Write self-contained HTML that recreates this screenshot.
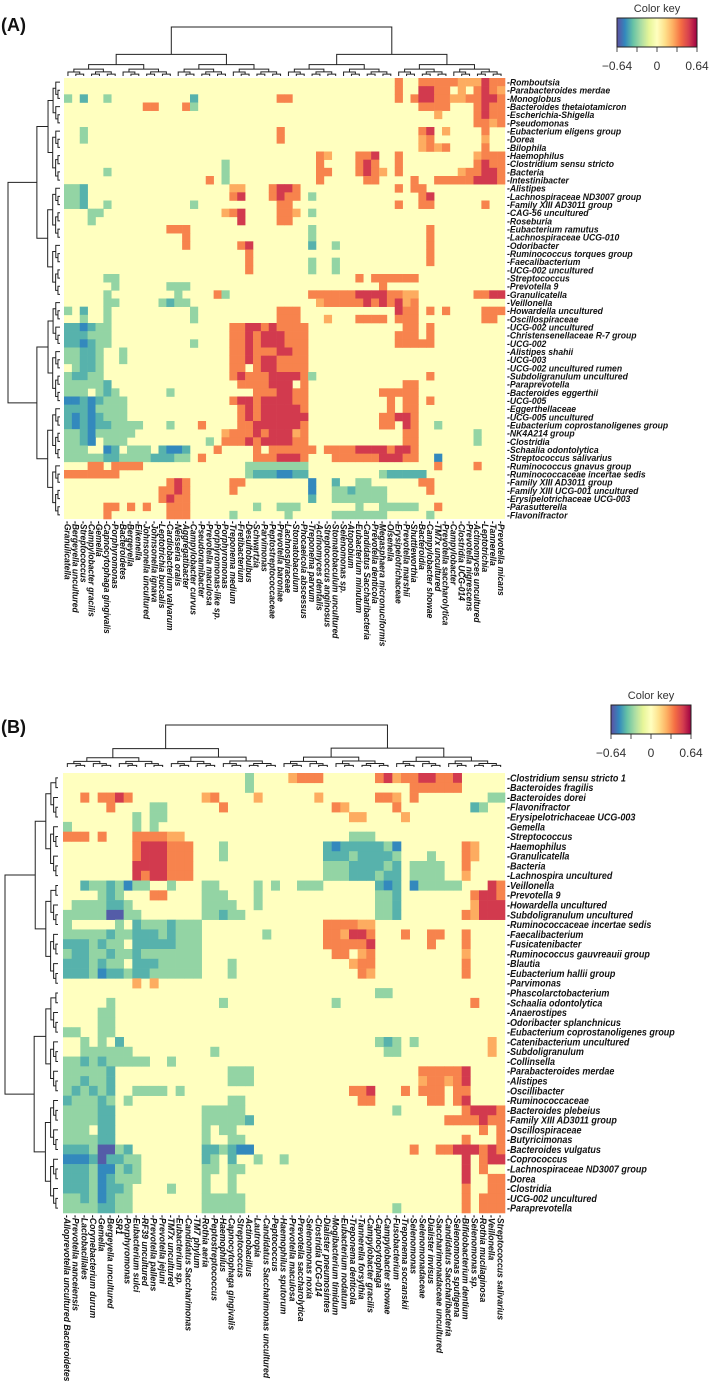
<!DOCTYPE html>
<html><head><meta charset="utf-8">
<style>
html,body{margin:0;padding:0;background:#fff;}
svg{display:block;}
text{font-family:"Liberation Sans",sans-serif;}
.lab{font-style:italic;fill:#111;font-weight:bold;}
</style></head>
<body>
<svg id="fig" width="709" height="1398" viewBox="0 0 709 1398" xmlns="http://www.w3.org/2000/svg"></svg>
<script>
// ---------- Panel A data ----------
const rowsA = ["Romboutsia","Parabacteroides merdae","Monoglobus","Bacteroides thetaiotamicron","Escherichia-Shigella","Pseudomonas","Eubacterium eligens group","Dorea","Bilophila","Haemophilus","Clostridium sensu stricto","Bacteria","Intestinibacter","Alistipes","Lachnospiraceae ND3007 group","Family XIII AD3011 group","CAG-56 uncultured","Roseburia","Eubacterium ramutus","Lachnospiraceae UCG-010","Odoribacter","Ruminococcus torques group","Faecalibacterium","UCG-002 uncultured","Streptococcus","Prevotella 9","Granulicatella","Veillonella","Howardella uncultured","Oscillospiraceae","UCG-002 uncultured","Christensenellaceae R-7 group","UCG-002","Alistipes shahii","UCG-003","UCG-002 uncultured rumen","Subdoligranulum uncultured","Paraprevotella","Bacteroides eggerthii","UCG-005","Eggerthellaceae","UCG-005 uncultured","Eubacterium coprostanoligenes group","NK4A214 group","Clostridia","Schaalia odontolytica","Streptococcus salivarius","Ruminococcus gnavus group","Ruminococcaceae incertae sedis","Family XIII AD3011 group","Family XIII UCG-001 uncultured","Erysipelotrichaceae UCG-003","Parasutterella","Flavonifractor"];
const colsA = ["Granulicatella","Bergeyella uncultured","Streptococcus","Campylobacter gracilis","Gemella","Capnocytophaga gingivalis","Porphyromonas","Bacteroidetes","Bergeyella","Eikenella","Johnsonella uncultured","Johnsonella ignava","Leptotrichia buccalis","Cardiobacterium valvarum","Neisseria oralis","Aggregatibacter","Campylobacter curvus","Pseudoramibacter","Prevotella maculosa","Porphyromonas-like sp.","Porphyromonas","Treponema medium","Fretibacterium","Desulfobulbus","Schwartzia","Parvimonas","Peptostreptococcaceae","Prevotella baroniae","Lachnospiraceae","Stomatobaculum","Phocaeicola abscessus","Treponema parvum","Actinomyces dentalis","Streptococcus anginosus","Stomatobaculum uncultured","Selenomonas sp.","Atopobium","Eubacterium minutum","Candidatus Saccharibacteria","Prevotella denticola","Megasphaera micronuciformis","Olsenella","Erysipelotrichaceae","Prevotella marshii","Shuttleworthia","Bacteroidia","Campylobacter showae","TM7x uncultured","Prevotella saccharolytica","Campylobacter","Clostridia UCG-014","Prevotella nigrescens","Actinomyces uncultured","Leptotrichia","Tannerella","Prevotella micans"];
const cellsA = [
"42:2 45:22222111322","42:2 45:3322.1.2321","0:a 2:b 5:a 16:b 27:22 42:2 44:233221122332","10:22 15:2a 45:2222 52:2322","47:1 52:2322","52:2212",
"2:a 27:2 45:23.1 53:2","2:a 27:2 45:12 53:1","45:1212 53:2","32:21 37:223 42:2 52:1222","20:a 32:2 37:232 42:2 52:2322","5:a 20:a 32:22 37:2321 42:2 50:122332",
"18:2 20:a 32:2 38:22 44:2 47:222223332","0:aab 21:11 26:2332 42:2 44:22","0:aab 21:23 26:2322 31:a 45:23","0:aab 5:a 16:a 27:22 42:2 45:22 53:2","3:aa 20:123 27:221 31:a","3:a 22:3 27:22",
"13:222 31:a 46:2","15:2 31:a 46:2","15:2 22:23 31:b 34:a 46:2","23:2 46:2","23:2 31:a 34:a 46:2","23:2 31:a 34:a",
"5:aa 37:2 39:222222","6:a 13:aaa 40:2","5:a 14:a 19:2a 31:22222233332211 52:2233","5:aa 12:abaa 32:1222223232312","0:a 2:b 5:a 16:a 27:222 42:322 46:2 48:2 53:222","2:a 5:a 16:a 27:222 33:1 37:2222 42:222 53:22",
"0:bbcbaa 21:2233232222 43:22 46:2","0:bbbaaa 21:2232333222 42:222 46:2","0:bbcbaa 16:a 21:2232333222 42:22222","0:aabba 7:a 21:2232223322","0:aabba 7:a 21:2232332222","1:abba 21:22.2332222",
"0:abbaa 21:2322233332a 46:2","0:aaaaab 22:2222333.2 43:22","0:aaa.aba 13:a 24:2223322 40:22222","0:ccbcbaaa 21:2332333322 41:2.22 46:2","0:bbbcaaaa 22:232333332 41:2.22","0:bcbcbaaa 22:232333333 40:22332",
"0:bcbcbbaaaa 13:a 17:2 22:223333332 40:22.32 47:a","0:aabcaaaaa 20:12223233312 43:22 52:a","0:aabc.aaa 18:a 20:22232333322 43:22 52:a","0:aaa 5:cb.aaa.bccb 19:2 24:2.222222 33:222233332332","0:aaaaabbaaaabbbaa 17:2 24:2223332 34:22222233322 47:c","3:22 6:2222 23:aaaaaaaa 47:2 52:2",
"0:2222222 23:abbbccbb 40:abbbbb","13:232 21:22 31:c 34:b 37:aa 45:22","12:2232 21:2 31:c 34:aabaaaa 46:2","12:2322 31:b 34:aaaaaaa","5:22 8:2 10:2 13:222 24:a 27:aaa 37:a 40:aaaaa 47:2","5:2 13:222 21:a 28:a 34:aaaaaaa 46:a"
];
// ---------- Panel B data ----------
const rowsB = ["Clostridium sensu stricto 1","Bacteroides fragilis","Bacteroides dorei","Flavonifractor","Erysipelotrichaceae UCG-003","Gemella","Streptococcus","Haemophilus","Granulicatella","Bacteria","Lachnospira uncultured","Veillonella","Prevotella 9","Howardella uncultured","Subdoligranulum uncultured","Ruminococcaceae incertae sedis","Faecalibacterium","Fusicatenibacter","Ruminococcus gauvreauii group","Blautia","Eubacterium hallii group","Parvimonas","Phascolarctobacterium","Schaalia odontolytica","Anaerostipes","Odoribacter splanchnicus","Eubacterium coprostanoligenes group","Catenibacterium uncultured","Subdoligranulum","Collinsella","Parabacteroides merdae","Alistipes","Oscillibacter","Ruminococcaceae","Bacteroides plebeius","Family XIII AD3011 group","Oscillospiraceae","Butyricimonas","Bacteroides vulgatus","Coprococcus","Lachnospiraceae ND3007 group","Dorea","Clostridia","UCG-002 uncultured","Paraprevotella"];
const colsB = ["Alloprevotella uncultured Bacteroidetes","Prevotella nanceiensis","Lactobacillales","Corynebacterium durum","Gemella","Bergeyella uncultured","SR1","Porphyromonas","Eubacterium sulci","RF39 uncultured","Prevotella pallens","Prevotella jejuni","TM7x uncultured","Eubacterium sp.","Candidatus Saccharimonas","TM7 phylum","Rothia aeria","Peptostreptococcus","Haemophilus","Capnocytophaga gingivalis","Streptococcus","Actinobacillus","Lautropia","Candidatus Saccharimonas uncultured","Peptococcus","Haemophilus sputorum","Prevotella maculosa","Prevotella saccharolytica","Selenomonas noxia","Clostridia UCG-014","Dialister pneumosintes","Mogibacterium timidum","Eubacterium nodatum","Treponema denticola","Tannerella forsythia","Campylobacter gracilis","Capnocytophaga","Campylobacter showae","Fusobacterium","Treponema socranskii","Selenomonas","Selenomonadaceae","Dialister invisus","Saccharimonadaceae uncultured","Candidatus Saccharibacteria","Selenomonas sputigena","Bifidobacterium dentium","Selenomonas sp.","Rothia mucilaginosa","Veillonella","Streptococcus salivarius"];
const cellsB = [
"21:a 26:1222 36:2312233223","21:a 40:222222","2:2 4:2232 16:12 22:1 29:1 36:221.2 49:aa","5:2 10:aa 18:2 31:21 38:2 47:ba","8:a 10:aa 33:11 39:1","0:a 8:a 10:a",
"0:222.2 8:222211 33:aaa","8:2333222 18:a 30:bcbbbbbac 46:21","8:2333222 18:a 30:bbbabbbba 42:a 46:21","8:3333222 30:aaabbbbab 40:aaaa 46:2","8:3233222 30:aaabbbabb 40:aaaa 46:1","2:baabacaa 12:a 16:aa 22:a 24:a 27:aaa 36:bcb.caaaaa 49:32",
"4:aba 10:22 16:aaa 22:a 36:aab 47:2332","1:aaaabba 16:aaaa 22:a 36:aab 47:1333","0:aaaaaddaa 16:aabaa 36:aab 46:21333","0:a 6:a 8:baaabaaa 30:222211","0:aaaaabaabbbabaaa 23:a 30:221332 39:2 42:22 46:2","0:bbbabaa.bbbbbaaa 30:222223 42:2 46:2",
"0:abbaabaabaaaaaaa 31:22.12 46:1","0:bbbabaa.bbbaaaaa 19:a 33:122 46:2","0:bbbacbbabbaaaaaa 19:a 34:21 46:2","8:1.1","36:aa","5:a 18:a 31:a 47:2",
"4:aa","4:aa","0:aa 4:aa","2:a.a.b 36:aba.a 49:1","2:aaaaaa 17:a 37:aa 49:1","0:aababaaaaa 12:a",
"0:aaaaab 19:aaa 41:222223","0:aabaab 19:aaa 41:122123","0:ababab 8:aaaa 13:a 33:223 39:2 41:222.22","0:baaaba.a 19:aa 34:22 42:22 45:23","0:aaaabb 16:aaaaa 38:a 46:23332","0:aaaabb 16:aaaaab 44:2222322",
"0:aaa.bb 16:a.aa 48:2.2","0:aaaabb 16:a..aa 46:2...2","0:bbbaddab 16:bbabcc 40:2 43:22333232","0:cccbdbbaa 16:ba.b 22:a 25:a 46:3.233","0:bbbaccaba 16:aa.aa 46:3.2","0:bbbacbaaa 16:a..a 46:3..22",
"0:bbbacbba 12:a 16:a..a 46:2..22","0:aabacbaa 16:aaaaa 46:2.222","0:aaaabbaa 16:aaaaa 38:a 46:2.222"
];
const codeVal = {'.':0,'1':0.26,'2':0.34,'3':0.52,'a':-0.3,'b':-0.42,'c':-0.51,'d':-0.61};

const NS = "http://www.w3.org/2000/svg";
const svg = document.getElementById('fig');
function mk(tag, attrs, parent){ const e=document.createElementNS(NS,tag); for(const k in attrs) e.setAttribute(k,attrs[k]); (parent||svg).appendChild(e); return e; }
const stops = [[-0.64,[94,79,162]],[-0.512,[50,136,189]],[-0.384,[102,194,165]],[-0.256,[171,221,164]],[-0.128,[230,245,152]],[0,[255,255,191]],[0.128,[254,224,139]],[0.256,[253,174,97]],[0.384,[244,109,67]],[0.512,[213,62,79]],[0.64,[158,1,66]]];
function color(v){
  v=Math.max(-0.64,Math.min(0.64,v));
  for(let i=0;i<stops.length-1;i++){ const [a,ca]=stops[i],[b,cb]=stops[i+1];
    if(v<=b){ const t=(v-a)/(b-a); return 'rgb('+ca.map((c,j)=>Math.round(c+(cb[j]-c)*t)).join(',')+')'; } }
  return 'rgb(158,1,66)';
}
function parseRow(spec, n){
  const out=new Array(n).fill(0);
  spec.split(' ').filter(s=>s).forEach(seg=>{ const [s,codes]=seg.split(':'); let c=+s;
    for(const ch of codes){ if(c<n) out[c]=codeVal[ch]; c++; } });
  return out;
}
function tree(lo,hi,n,maxH){
  if(lo===hi) return {pos:lo,h:0,kids:null};
  const mid=lo+Math.floor((hi-lo+1)/2)-1;
  const L=tree(lo,mid,n,maxH), R=tree(mid+1,hi,n,maxH);
  const size=hi-lo+1;
  const h=Math.max(L.h,R.h)+maxH*Math.pow(size/n,1.6)*0.85+maxH*0.06;
  return {pos:(L.pos+R.pos)/2,h:h,kids:[L,R]};
}
function drawDendro(n, vertical, leafPos, base, maxH, parent, name){
  const t=tree(0,n-1,n,maxH);
  const sc=maxH/t.h;
  let d='';
  function walk(node){
    if(!node.kids) return;
    const [L,R]=node.kids; walk(L); walk(R);
    const hp=base-node.h*sc, hl=base-L.h*sc, hr=base-R.h*sc, xl=leafPos(L.pos), xr=leafPos(R.pos);
    if(vertical) d+=`M${xl},${hl}V${hp}H${xr}V${hr}`;
    else d+=`M${hl},${xl}H${hp}V${xr}H${hr}`;
  }
  walk(t);
  const p=mk('path',{d:d,fill:'none',stroke:'#222','stroke-width':1},parent);
  
  
}
function colorKey(x,y,w,h,parent,name){
  const g=mk('g',{},parent);
  
  
  const id='grad'+name;
  const defs=mk('defs',{},g); const lg=mk('linearGradient',{id:id,x1:0,x2:1,y1:0,y2:0},defs);
  stops.forEach(s=>mk('stop',{offset:((s[0]+0.64)/1.28*100)+'%','stop-color':color(s[0])},lg));
  const ct=mk('text',{x:x+w/2,y:y-6,'text-anchor':'middle','font-size':11,fill:'#333'},g); ct.textContent='Color key';
   
  mk('rect',{x:x,y:y,width:w,height:h,fill:`url(#${id})`,stroke:'#222','stroke-width':1},g);
  [-0.64,-0.32,0,0.32,0.64].forEach(v=>{ const tx=x+(v+0.64)/1.28*w; mk('line',{x1:tx,x2:tx,y1:y+h,y2:y+h+5,stroke:'#222','stroke-width':0.8},g); });
  [['\u22120.64',-0.64],['0',0],['0.64',0.64]].forEach(([s,v])=>{ const t=mk('text',{x:x+(v+0.64)/1.28*w,y:y+h+23,'text-anchor':'middle','font-size':12,fill:'#333'},g); t.textContent=s;
      });
}
function panel(cfg){
  const g=mk('g',{});
  
  
  const nr=cfg.rows.length, nc=cfg.cols.length;
  const cw=(cfg.x1-cfg.x0)/nc, rh=(cfg.y1-cfg.y0)/nr;
  const xs=i=>cfg.x0+i*cw, ys=j=>cfg.y0+j*rh;
  const bg=mk('rect',{x:cfg.x0,y:cfg.y0,width:cfg.x1-cfg.x0,height:cfg.y1-cfg.y0,fill:color(0)},g);
   
  cfg.cells.forEach((spec,j)=>{ const vals=parseRow(spec,nc);
    vals.forEach((v,i)=>{ if(v===0) return;
      const r=mk('rect',{x:xs(i),y:ys(j),width:cw+0.3,height:rh+0.3,fill:color(v)},g);
        }); });
  cfg.rows.forEach((lbl,j)=>{ const t=mk('text',{transform:`translate(${cfg.x1+2},${ys(j)+rh/2}) scale(0.9,1)`,'dy':'0.35em','font-size':cfg.rfs,class:'lab'},g); t.textContent='-'+lbl;
      });
  cfg.cols.forEach((lbl,i)=>{ const cx=xs(i)+cw/2; const t=mk('text',{transform:`translate(${cx},${cfg.y1+2}) rotate(90) scale(0.9,1)`,'dy':'0.35em','font-size':cfg.cfs,class:'lab'},g); t.textContent='-'+lbl;
      });
  drawDendro(nc,true,p=>xs(p)+cw/2,cfg.dTopBase,cfg.dTopH,g,'column-dendrogram');
  drawDendro(nr,false,p=>ys(p)+rh/2,cfg.dLeftBase,cfg.dLeftH,g,'row-dendrogram');
  const pl=mk('text',{x:1,y:cfg.labelY,'font-size':18,'font-weight':'bold',fill:'#111'},g); pl.textContent=cfg.panelLabel;
   
  colorKey(cfg.kx,cfg.ky,80,29,g,cfg.name+'-color-key');
}
panel({name:'panel-a',rows:rowsA,cols:colsA,cells:cellsA,x0:64,x1:505,y0:78,y1:519,rfs:9.6,cfs:9.4,dTopBase:76,dTopH:49,dLeftBase:60,dLeftH:52,labelY:31,panelLabel:'(A)',kx:617,ky:18});
panel({name:'panel-b',rows:rowsB,cols:colsB,cells:cellsB,x0:63,x1:505,y0:773,y1:1213,rfs:10,cfs:9.6,dTopBase:767,dTopH:42,dLeftBase:58,dLeftH:53,labelY:733,panelLabel:'(B)',kx:611,ky:705});
</script>
</body></html>
